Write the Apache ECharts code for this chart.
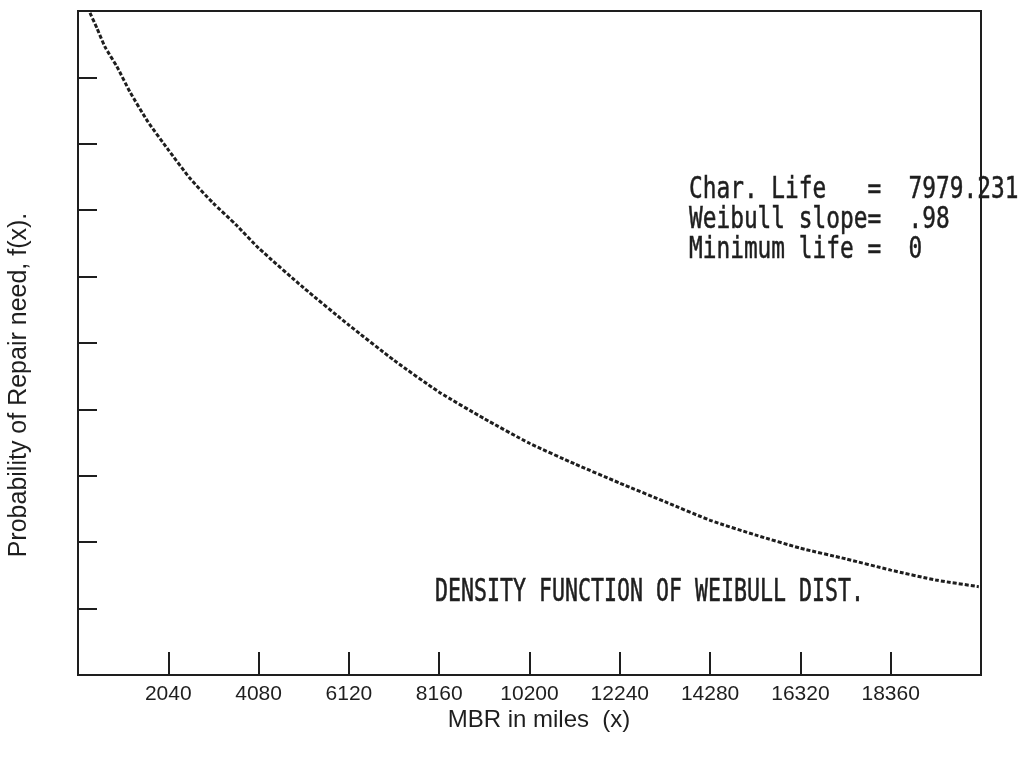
<!DOCTYPE html>
<html>
<head>
<meta charset="utf-8">
<script src="https://cdn.jsdelivr.net/npm/echarts@6/dist/echarts.min.js"></script>
<style>
  html, body { margin: 0; padding: 0; background: #fff; }
  #chart { width: 1026px; height: 758px; }
</style>
</head>
<body>
<div id="chart"></div>
<script>
// Weibull density curve, MBR (miles) vs. f(x) in plot units
const milesX = [271, 429, 610, 881, 1175, 1582, 2040, 2530, 3050, 3570, 4080,
  5100, 6120, 7140, 8160, 9180, 10200, 11220, 12240, 13260, 14280,
  15300, 16320, 17340, 18360, 19380, 20350];
const densityY = [9.97, 9.74, 9.46, 9.16, 8.78, 8.33, 7.91, 7.48, 7.11, 6.78, 6.43,
  5.83, 5.27, 4.74, 4.26, 3.86, 3.49, 3.18, 2.89, 2.61, 2.33,
  2.11, 1.91, 1.75, 1.58, 1.43, 1.33];

// Labelled x ticks
const xTickLabels = [2040, 4080, 6120, 8160, 10200, 12240, 14280, 16320, 18360];

// Parameter block and caption
const paramLines = [
  'Char. Life   =  7979.231',
  'Weibull slope=  .98',
  'Minimum life =  0'
];
const caption = 'DENSITY FUNCTION OF WEIBULL DIST.';
const xTitle = 'MBR in miles  (x)';
const yTitle = 'Probability of Repair need, f(x).';

const ink = '#1e1e1e';
const chart = echarts.init(document.getElementById('chart'), null, { renderer: 'canvas' });

const monoText = (text, x, y, size, sy) => ({
  type: 'text', x: x, y: y, scaleY: sy,
  style: { text: text, font: 'normal ' + size + 'px "DejaVu Sans Mono"', fill: ink,
           stroke: ink, lineWidth: 0.4,
           textVerticalAlign: 'top', textAlign: 'left' }
});

chart.setOption({
  animation: false,
  backgroundColor: '#ffffff',
  grid: { left: 78, right: 45, top: 11, bottom: 83, show: true,
          borderColor: ink, borderWidth: 2, backgroundColor: 'transparent' },
  xAxis: {
    type: 'value', min: 0, max: 20400, interval: 2040,
    axisLine: { show: true, lineStyle: { color: ink, width: 2 } },
    axisTick: { show: true, inside: true, length: 23, lineStyle: { color: ink, width: 2 } },
    splitLine: { show: false },
    axisLabel: {
      margin: 9, color: ink, fontSize: 21, fontFamily: '"Liberation Sans", Arial, sans-serif',
      formatter: v => (xTickLabels.indexOf(v) >= 0 ? String(v) : '')
    }
  },
  yAxis: {
    type: 'value', min: 0, max: 10, interval: 1,
    axisLine: { show: true, lineStyle: { color: ink, width: 2 } },
    axisTick: { show: true, inside: true, length: 19, lineStyle: { color: ink, width: 2 } },
    splitLine: { show: false },
    axisLabel: { show: false }
  },
  series: [{
    type: 'line',
    data: milesX.map((x, i) => [x, densityY[i]]),
    smooth: 0.2,
    symbol: 'none',
    lineStyle: { color: ink, width: 3, type: [4, 2] }
  }],
  graphic: [
    monoText(paramLines[0], 689, 175, 22.8, 1.32),
    monoText(paramLines[1], 689, 205, 22.8, 1.32),
    monoText(paramLines[2], 689, 235, 22.8, 1.32),
    monoText(caption, 435, 577, 21.6, 1.45),
    {
      type: 'text', x: 539, y: 720,
      style: { text: xTitle, font: 'normal 24px "Liberation Sans", Arial, sans-serif',
               fill: ink, textAlign: 'center', textVerticalAlign: 'middle' }
    },
    {
      type: 'text', x: 19, y: 385, rotation: Math.PI / 2,
      style: { text: yTitle, font: 'normal 25px "Liberation Sans", Arial, sans-serif',
               fill: ink, textAlign: 'center', textVerticalAlign: 'middle' }
    }
  ]
});
</script>
</body>
</html>
